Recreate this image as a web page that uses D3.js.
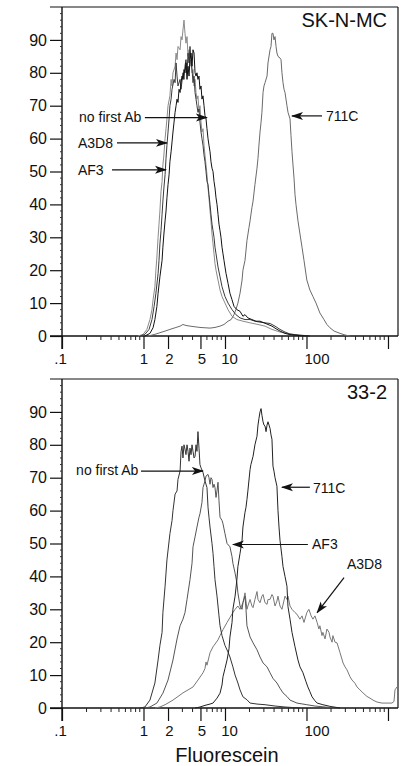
<!DOCTYPE html>
<html><head><meta charset="utf-8">
<script src="https://cdn.jsdelivr.net/npm/d3@7"></script>
<style>
body{margin:0;background:#fff}
svg{display:block}
text{font-family:"Liberation Sans",Arial,Helvetica,sans-serif;fill:#111}
</style>
</head><body>
<svg id="chart" width="404" height="766"></svg>
<script>
// ---------- axis ticks ----------
const xTickValues = [0.1, 1, 2, 5, 10, 100, 1000];
const xTickLabels = [".1", "1", "2", "5", "10", "100", ""];
const xMinorTicks = [0.2,0.3,0.4,0.5,0.6,0.7,0.8,0.9,3,4,6,7,8,9,20,30,40,50,60,70,80,90,200,300,400,500,600,700,800,900];
const yTickValues = [0, 10, 20, 30, 40, 50, 60, 70, 80, 90];
const yMinorTicks = [2,4,6,8,12,14,16,18,22,24,26,28,32,34,36,38,42,44,46,48,52,54,56,58,62,64,66,68,72,74,76,78,82,84,86,88,92,94,96,98];
const xLabel = "Fluorescein";

// ---------- SK-N-MC panel: [fluorescence, count] ----------
const skn_noFirstAb = [[0.86,0],[0.99,0.5],[1.10,2],[1.20,5],[1.27,8],[1.31,11],[1.38,15],[1.42,20],[1.46,24],[1.51,30],[1.55,34],[1.59,38],[1.64,44],[1.69,47],[1.73,52],[1.78,55],[1.84,60],[1.89,63],[1.94,66],[2.00,70],[2.11,73],[2.18,78],[2.24,76],[2.30,80],[2.44,82],[2.51,86],[2.58,84],[2.65,88],[2.81,87],[2.89,91],[2.97,90],[3.05,93],[3.14,96],[3.23,92],[3.32,89],[3.42,91],[3.52,85],[3.62,87],[3.72,82],[3.83,84],[3.94,80],[4.05,81],[4.17,76],[4.29,78],[4.41,74],[4.53,72],[4.66,73],[4.80,68],[4.93,70],[5.08,65],[5.22,62],[5.37,63],[5.53,58],[5.68,55],[5.85,52],[6.01,49],[6.19,45],[6.36,42],[6.55,38],[6.73,35],[6.93,31],[7.13,28],[7.33,25],[7.54,22],[7.76,20],[8.21,17],[8.69,14],[9.19,12],[10.0,10],[10.9,8],[12.2,6],[14.0,5],[16.6,4.5],[20.3,4],[25.4,3.5],[31.0,3],[37.7,2],[47.3,1.2],[62.8,0.6],[83.2,0.3],[110,0]];
const skn_A3D8 = [[0.91,0],[1.04,0.5],[1.17,2],[1.27,5],[1.35,9],[1.42,13],[1.51,19],[1.55,23],[1.59,28],[1.64,32],[1.69,37],[1.73,41],[1.78,45],[1.84,49],[1.89,54],[1.94,58],[2.00,62],[2.06,66],[2.11,70],[2.18,72],[2.24,75],[2.37,78],[2.44,77],[2.51,83],[2.58,79],[2.65,76],[2.81,78],[2.89,75],[3.05,80],[3.14,78],[3.23,82],[3.32,84],[3.42,80],[3.52,86],[3.62,83],[3.72,88],[3.83,84],[3.94,81],[4.05,77],[4.17,79],[4.29,74],[4.41,72],[4.53,70],[4.66,68],[4.80,69],[4.93,65],[5.08,62],[5.22,60],[5.37,58],[5.53,55],[5.68,53],[5.85,50],[6.01,47],[6.19,46],[6.36,43],[6.55,40],[6.73,37],[6.93,34],[7.13,32],[7.33,30],[7.54,27],[7.76,25],[8.21,21],[8.69,18],[9.19,15],[10.0,12],[10.9,10],[12.2,8],[13.6,6.5],[15.3,5.5],[17.6,5],[20.3,5],[23.3,4.5],[26.9,4.2],[31.0,4],[35.7,3.8],[41.1,3],[47.3,2],[54.5,1.2],[62.8,0.6],[83.2,0.2],[110,0]];
const skn_AF3 = [[1.04,0],[1.20,0.8],[1.31,2.5],[1.38,5],[1.46,9],[1.51,13],[1.59,18],[1.69,23],[1.73,27],[1.78,31],[1.84,35],[1.89,38],[1.94,42],[2.00,46],[2.06,49],[2.11,53],[2.18,56],[2.24,59],[2.30,62],[2.37,65],[2.44,68],[2.51,70],[2.58,72],[2.65,71],[2.73,75],[2.81,74],[2.89,77],[2.97,79],[3.05,78],[3.14,81],[3.23,80],[3.32,83],[3.42,78],[3.52,82],[3.62,79],[3.72,84],[3.83,86],[3.94,82],[4.05,87],[4.17,86],[4.29,80],[4.41,79],[4.53,80],[4.66,78],[4.80,79],[4.93,75],[5.08,76],[5.22,72],[5.37,73],[5.53,70],[5.68,67],[5.85,66],[6.01,63],[6.19,60],[6.36,58],[6.55,56],[6.73,53],[6.93,51],[7.13,50],[7.33,47],[7.54,45],[7.76,42],[7.98,40],[8.21,37],[8.44,34],[8.69,32],[8.93,30],[9.19,27],[9.45,25],[9.72,23],[10.0,21],[10.3,19],[10.9,16],[11.5,13],[12.2,11],[12.9,9],[14.0,8],[15.3,7.5],[16.6,6],[17.6,6.5],[19.1,5.5],[21.4,5],[24.0,4.5],[26.9,4.5],[30.1,4],[33.7,3.5],[37.7,3],[42.3,2.2],[47.3,1.5],[54.5,0.8],[62.8,0.4],[83.2,0.1],[110,0]];
const skn_711C = [[1.14,0],[1.38,0.5],[1.59,1],[1.84,1.5],[2.11,2],[2.44,2.5],[2.81,3],[3.05,3.5],[3.32,3.2],[3.72,3],[4.29,2.8],[4.93,2.6],[5.68,2.5],[6.55,2.4],[7.54,2.6],[8.69,3],[9.72,3.5],[10.9,4.5],[11.9,5],[12.9,6.5],[13.6,8],[14.4,10],[15.3,13],[16.2,17],[16.6,20],[17.6,23],[18.6,29],[19.7,33],[20.3,35],[21.4,39],[22.1,41],[23.3,46],[24.7,51],[25.4,54],[26.1,58],[26.9,62],[27.7,65],[28.4,68],[29.3,74],[30.1,76],[31.0,77],[32.8,79],[33.7,83],[35.7,87],[36.7,88],[37.7,92],[38.8,92],[39.9,90],[41.1,91],[42.3,88],[43.4,86],[44.7,85],[47.3,84.5],[48.7,84],[50.0,80],[51.5,77],[53.0,75],[54.5,74],[57.6,70],[59.3,68],[62.8,66],[64.5,61],[66.4,56],[68.3,52],[70.3,48],[72.3,43],[74.3,40],[78.6,35],[83.2,31],[88.1,27],[93.2,23],[101,17],[110,14],[120,12],[131,10],[146,7],[164,5],[178,3.5],[194,2.5],[218,1.5],[258,0.8],[297,0.3],[342,0]];

// ---------- 33-2 panel: [fluorescence, count] ----------
const c332_noFirstAb = [[0.91,0],[1.04,0.3],[1.20,2.4],[1.38,7.6],[1.51,14.6],[1.59,19],[1.69,23],[1.73,29],[1.84,37],[1.94,45],[2.11,53],[2.24,57],[2.30,60],[2.44,65],[2.58,66],[2.65,69.5],[2.81,72],[2.89,78],[2.97,79.6],[3.05,76],[3.14,80],[3.23,78.7],[3.32,77],[3.42,80],[3.52,78],[3.62,75],[3.72,79],[3.83,77],[3.94,80],[4.05,78],[4.17,76],[4.29,76.5],[4.41,80],[4.53,78],[4.66,84],[4.80,79],[4.93,74],[5.08,73],[5.37,71.6],[5.68,69],[6.01,67],[6.19,61],[6.36,58],[6.55,55],[6.93,50],[7.13,47],[7.33,43],[7.54,39],[7.98,34],[8.21,31],[8.44,28],[8.69,25],[9.19,22],[10.0,19],[10.9,17],[11.5,15.5],[12.5,12.5],[13.3,10],[14.4,7.6],[15.3,5.5],[16.6,3.4],[18.6,2.5],[20.3,1.5],[24.7,1.2],[31.0,1],[41.1,0.6],[54.5,0.3],[83.2,0]];
const c332_AF3 = [[1.04,0],[1.20,0.3],[1.46,1.5],[1.73,4.5],[2.00,8.5],[2.30,14.6],[2.58,21],[2.81,25],[3.05,27],[3.23,29],[3.42,33],[3.72,39],[3.94,44],[4.05,49],[4.29,52],[4.53,55],[4.80,58],[4.93,59],[5.22,62.5],[5.37,67],[5.68,69],[5.85,70.5],[6.19,71],[6.36,70],[6.55,68],[6.73,70],[6.93,69.5],[7.13,67],[7.33,68],[7.54,67],[7.76,64],[7.98,66],[8.21,68.6],[8.44,63],[8.69,58],[9.19,57],[9.45,56],[10.0,53],[10.6,50],[11.5,49],[12.2,46],[12.5,44],[13.3,41],[14.0,38],[14.4,35],[15.3,31],[16.2,30],[16.6,32],[17.6,34],[18.1,30],[18.6,25],[20.3,21.6],[22.1,19.8],[24.7,17.7],[26.9,15.5],[29.3,13.7],[32.8,12.5],[35.7,10.7],[38.8,9],[43.4,7.6],[47.3,6],[51.5,4.6],[57.6,3.5],[62.8,2.4],[76.4,1.5],[101,1],[127,0.6],[169,0.3],[224,0]];
const c332_711C = [[4.29,0],[4.93,0.3],[5.68,0.8],[6.55,1.2],[7.13,1.5],[7.98,3],[8.69,4.5],[9.19,7],[9.45,9.5],[10.0,12],[10.6,14.6],[11.2,18],[11.5,21.6],[12.2,26],[12.5,30],[13.3,34],[14.0,39],[14.4,43],[15.3,47],[16.2,51],[16.6,55],[17.6,59.5],[18.1,61],[18.6,63.4],[19.1,66],[20.3,72.5],[20.8,74],[22.1,76.5],[23.3,80],[24.7,82.6],[25.4,86],[26.1,88],[26.9,90],[27.7,91],[28.4,89],[29.3,87],[30.1,86],[31.0,85.7],[31.9,84],[32.8,86],[33.7,87],[34.7,86],[35.7,85],[36.7,83],[37.7,81.7],[38.8,73.5],[39.9,72],[41.1,70],[43.4,67.4],[44.7,60],[46.0,55],[47.3,51],[50.0,46],[51.5,43],[54.5,40],[57.6,37],[59.3,30.8],[62.8,27],[66.4,23],[72.3,18.6],[78.6,14.6],[83.2,12.5],[90.6,10.7],[98.6,8],[104,6.4],[110,5],[117,3.4],[127,2.2],[135,1.5],[159,1],[194,0.5],[258,0]];
const c332_A3D8 = [[1.38,0],[1.59,0.3],[1.84,1],[2.30,2.4],[2.65,3.5],[3.05,4.6],[3.52,5.5],[4.05,6.4],[4.66,8.5],[5.37,10.7],[5.68,12],[5.85,14],[6.01,13],[6.55,16.8],[7.13,18.6],[8.21,20.7],[8.69,22],[9.45,23.8],[10.6,26],[11.5,27.5],[12.5,29],[13.3,30],[14.4,31],[15.3,30],[16.6,32],[17.6,35],[18.6,30],[19.1,31],[20.3,33],[21.4,31],[22.1,30.5],[23.3,33],[24.7,35.4],[25.4,33],[26.9,32],[28.4,34],[29.3,34.5],[31.0,32],[32.8,31.5],[33.7,33],[35.7,33],[37.7,34.5],[38.8,34],[41.1,31],[43.4,32.5],[44.7,34],[47.3,31],[50.0,30],[54.5,34],[57.6,33],[59.3,34],[62.8,31],[66.4,30],[72.3,29],[76.4,28.5],[83.2,27],[88.1,28],[93.2,26],[101,29],[107,30],[114,28],[120,27],[127,28],[135,26],[142,24],[146,25],[155,22],[159,23],[169,21],[178,24],[189,23],[194,21.6],[206,20],[211,22],[224,20],[237,19.8],[258,16.8],[281,13.7],[297,12.5],[314,11.6],[342,9.5],[362,8.5],[394,7.5],[417,6.4],[453,5.5],[493,4.6],[553,3.5],[601,3],[655,2.4],[733,1.8],[844,1.5],[972,1.5],[1120,1.5],[1185,2],[1219,5.5],[1290,6.4],[1327,6.4]];

// ---------- annotations (data coordinates) ----------
const skn_notes = [
  {label:"no first Ab", tx:0.162, ty:65.0, anchor:"start", from:[1.04,66.4], to:[6.0,66.4]},
  {label:"A3D8", tx:0.157, ty:57.1, anchor:"start", from:[0.473,58.7], to:[1.94,58.7]},
  {label:"AF3", tx:0.157, ty:48.9, anchor:"start", from:[0.411,50.5], to:[1.89,50.5]},
  {label:"711C", tx:173, ty:65.3, anchor:"start", from:[155,66.9], to:[66.4,66.9]}
];
const c332_notes = [
  {label:"no first Ab", tx:0.149, ty:70.7, anchor:"start", from:[0.932,72.0], to:[5.37,72.0]},
  {label:"711C", tx:120, ty:65.5, anchor:"start", from:[110,67.1], to:[50.0,67.1]},
  {label:"AF3", tx:117, ty:48.2, anchor:"start", from:[104,49.7], to:[12.5,49.7]},
  {label:"A3D8", tx:314, ty:42.1, anchor:"start", from:[289,39.6], to:[135,29.0]}
];

const panels = [
  {title:"SK-N-MC", top:7, bottom:336,
   series:[{d:skn_711C,c:"#6a6a6a"},{d:skn_noFirstAb,c:"#8a8a8a"},{d:skn_A3D8,c:"#3a3a3a"},{d:skn_AF3,c:"#111"}],
   notes:skn_notes},
  {title:"33-2", top:379, bottom:708,
   series:[{d:c332_A3D8,c:"#777"},{d:c332_noFirstAb,c:"#333"},{d:c332_AF3,c:"#555"},{d:c332_711C,c:"#222"}],
   notes:c332_notes}
];

const svg = d3.select("#chart");
const xLeft = 62, xRight = 398, frameLeft = 50;
const x = d3.scaleLog().domain([0.1, 1327]).range([xLeft, xRight]);

svg.append("defs").append("marker")
  .attr("id","arr").attr("markerUnits","userSpaceOnUse")
  .attr("viewBox","0 -5 12 10").attr("refX",11).attr("refY",0)
  .attr("markerWidth",12).attr("markerHeight",10).attr("orient","auto")
  .append("path").attr("d","M0,-4 L12,0 L0,4 L3,0 Z").attr("fill","#111");

const labelDx = {".1":-2,"1":0,"2":1,"5":1,"10":4,"100":10,"":0};

panels.forEach(p => {
  const y = d3.scaleLinear().domain([0,100]).range([p.bottom, p.top]);
  const g = svg.append("g");

  // frame: top line, right border
  g.append("line").attr("x1",frameLeft).attr("x2",xRight).attr("y1",y(100)).attr("y2",y(100)).attr("stroke","#111").attr("stroke-width",1.2);
  g.append("line").attr("x1",xRight).attr("x2",xRight).attr("y1",y(100)).attr("y2",y(0)).attr("stroke","#111").attr("stroke-width",1.2);

  // y axis
  const ya = g.append("g").attr("transform",`translate(${xLeft},0)`)
    .call(d3.axisLeft(y).tickValues(yTickValues).tickSize(12).tickPadding(3).tickFormat(d3.format("d")));
  ya.select(".domain").remove();
  ya.selectAll("line").attr("stroke","#111").attr("stroke-width",1.2);
  ya.selectAll("text").attr("font-size",16).style("font-family","'Liberation Sans',Arial,sans-serif").attr("fill","#111");
  g.append("line").attr("x1",xLeft).attr("x2",xLeft).attr("y1",y(100)).attr("y2",y(0)+13).attr("stroke","#111").attr("stroke-width",1.4);
  g.selectAll(".ymin").data(yMinorTicks).join("line")
    .attr("x1",xLeft-2).attr("x2",xLeft).attr("y1",d=>y(d)).attr("y2",d=>y(d)).attr("stroke","#333").attr("stroke-width",1);

  // x axis
  const xa = g.append("g").attr("transform",`translate(0,${y(0)})`)
    .call(d3.axisBottom(x).tickValues(xTickValues).tickSize(13).tickPadding(4).tickFormat((d,i)=>xTickLabels[i]));
  xa.select(".domain").remove();
  xa.selectAll("line").attr("stroke","#111").attr("stroke-width",1.2);
  xa.selectAll("text").attr("font-size",15).attr("fill","#111")
    .style("font-family","'Liberation Sans',Arial,sans-serif")
    .attr("dx",function(){return labelDx[this.textContent]||0;});
  g.append("line").attr("x1",frameLeft).attr("x2",xRight).attr("y1",y(0)).attr("y2",y(0)).attr("stroke","#111").attr("stroke-width",1.4);
  g.selectAll(".xmin").data(xMinorTicks).join("line")
    .attr("x1",d=>x(d)).attr("x2",d=>x(d)).attr("y1",y(0)).attr("y2",y(0)+4).attr("stroke","#222").attr("stroke-width",1);

  // curves
  const line = d3.line().x(d=>x(d[0])).y(d=>y(d[1]));
  p.series.forEach(s => {
    g.append("path").datum(s.d).attr("d",line).attr("fill","none")
      .attr("stroke",s.c).attr("stroke-width",1).attr("stroke-linejoin","miter");
  });

  // title
  g.append("text").attr("x",387).attr("y",y(100)+20).attr("text-anchor","end")
    .attr("font-size",20).text(p.title);

  // annotations
  p.notes.forEach(n => {
    g.append("line").attr("x1",x(n.from[0])).attr("y1",y(n.from[1]))
      .attr("x2",x(n.to[0])).attr("y2",y(n.to[1]))
      .attr("stroke","#111").attr("stroke-width",1.2).attr("marker-end","url(#arr)");
    g.append("text").attr("x",x(n.tx)).attr("y",y(n.ty)).attr("text-anchor",n.anchor)
      .attr("font-size",14).text(n.label);
  });
});

svg.append("text").attr("x",227).attr("y",762).attr("text-anchor","middle")
  .attr("font-size",20).text(xLabel);
</script>
</body></html>
